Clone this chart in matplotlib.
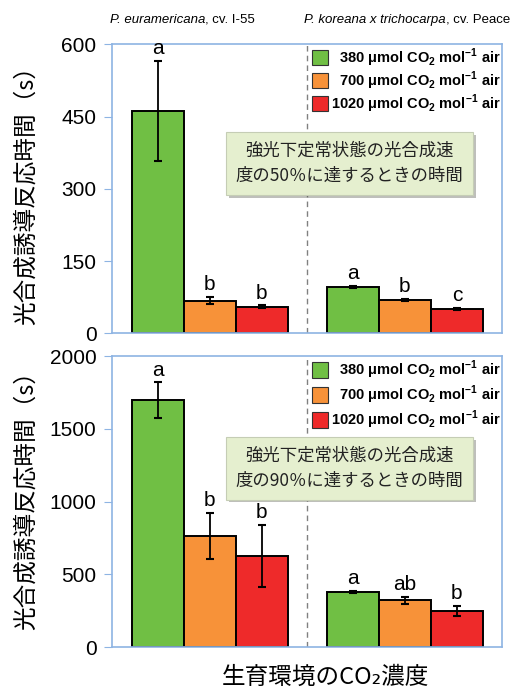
import numpy as np
import matplotlib
matplotlib.use('Agg')
import matplotlib.pyplot as plt
from matplotlib import font_manager
from matplotlib.patches import Rectangle
import matplotlib.patheffects as pe

# data
co2_levels = ['380', '700', '1020']
species_italic = ['P. euramericana', 'P. koreana x trichocarpa']
species_cv = [', cv. I-55', ', cv. Peace']

t50_euram = [462, 68, 55]
t50_euram_err = [104, 7, 3]
t50_korea = [97, 70, 51]
t50_korea_err = [2, 2, 2]
t50_letters = [['a', 'b', 'b'], ['a', 'b', 'c']]

t90_euram = [1698, 765, 628]
t90_euram_err = [122, 160, 213]
t90_korea = [380, 323, 249]
t90_korea_err = [8, 24, 33]
t90_letters = [['a', 'b', 'b'], ['a', 'ab', 'b']]

bar_colors = ['#70bf44', '#f79239', '#ee2a2a']
spine_col = '#8eb4e3'

# fonts
names = {f.name for f in font_manager.fontManager.ttflist}
narrow = 'Liberation Sans Narrow' if 'Liberation Sans Narrow' in names else 'Liberation Sans'
jp = ['Noto Sans CJK JP', 'DejaVu Sans']
plt.rcParams['font.family'] = [narrow, 'DejaVu Sans']
plt.rcParams['mathtext.fontset'] = 'custom'
plt.rcParams['mathtext.bf'] = 'Liberation Sans:bold'
plt.rcParams['mathtext.rm'] = 'Liberation Sans:bold'

fig = plt.figure(figsize=(5.25, 6.93), dpi=100)
ax1 = fig.add_axes([0.213, 0.519, 0.743, 0.417])
ax2 = fig.add_axes([0.213, 0.066, 0.743, 0.420])

group_x = [2.0, 5.75]
offsets = np.array([-1, 0, 1])
divider_x = 3.865


def draw_panel(ax, means, errs, letters, ymax, yticks, box_text, box_y, leg_top, leg_step):
    for g in range(2):
        xs = group_x[g] + offsets
        ax.bar(xs, means[g], width=1.0, color=bar_colors, edgecolor='black',
               linewidth=1.4, zorder=2)
        ax.errorbar(xs, means[g], yerr=errs[g], fmt='none', ecolor='black',
                    elinewidth=1.3, capsize=3, capthick=1.5, zorder=3)
        for x, m, e, l in zip(xs, means[g], errs[g], letters[g]):
            ax.annotate(l, (x, m + e), xytext=(0, 2), textcoords='offset points',
                        ha='center', va='bottom', fontsize=15,
                        family='Liberation Sans', zorder=4)
    ax.axvline(divider_x, color='#808080', lw=1, ls=(0, (4, 3)), zorder=1)
    ax.set_xlim(0.115, 7.615)
    ax.set_ylim(0, ymax)
    ax.set_xticks([])
    ax.set_yticks(yticks)
    ax.tick_params(axis='y', direction='out', length=6, color=spine_col,
                   labelsize=15, pad=5)
    for s in ax.spines.values():
        s.set_color(spine_col)
        s.set_linewidth(1.2)

    # legend, drawn by hand so the labels are right aligned
    for i, lev in enumerate(co2_levels):
        yc = leg_top - i * leg_step
        ax.add_patch(Rectangle((0.513, yc - 0.027), 0.04, 0.054, transform=ax.transAxes,
                               facecolor=bar_colors[i], edgecolor='#333333', lw=0.8,
                               zorder=5))
        ax.text(0.997, yc, lev + r' $\mathbf{\mu}$mol CO$_\mathbf{2}$ mol$^\mathbf{-1}$ air',
                transform=ax.transAxes, ha='right', va='center', fontsize=10.5,
                family='Liberation Sans', weight='bold', clip_on=True, zorder=5)

    ax.text(0.61, box_y, box_text, transform=ax.transAxes, ha='center', va='center',
            fontsize=12.5, family=jp, linespacing=1.55, color='#222222', zorder=6,
            bbox=dict(boxstyle='square,pad=0.55', facecolor='#e5efcf',
                      edgecolor='#c5cdb5', lw=0.8,
                      path_effects=[pe.withSimplePatchShadow(offset=(2, -2),
                                                             alpha=0.35)]))


draw_panel(ax1, [t50_euram, t50_korea], [t50_euram_err, t50_korea_err], t50_letters,
           600, [0, 150, 300, 450, 600],
           '強光下定常状態の光合成速\n度の50％に達するときの時間', 0.588, 0.955, 0.08)
draw_panel(ax2, [t90_euram, t90_korea], [t90_euram_err, t90_korea_err], t90_letters,
           2000, [0, 500, 1000, 1500, 2000],
           '強光下定常状態の光合成速\n度の90％に達するときの時間', 0.615, 0.952, 0.086)

# species names above the top panel
for xf, it, cv in zip([0.2095, 0.579], species_italic, species_cv):
    t = fig.text(xf, 0.967, it, style='italic', fontsize=9.5, ha='left', va='baseline')
    ax1.annotate(cv, xy=(1, 0), xycoords=t, ha='left', va='bottom', fontsize=9.5,
                 annotation_clip=False)

# axis labels
for yc in [0.726, 0.287]:
    fig.text(0.05, yc, '光合成誘導反応時間（s）', rotation=90, ha='center', va='center',
             fontsize=17, family=jp)
fig.text(0.62, 0.022, '生育環境のCO₂濃度', ha='center', va='center', fontsize=17,
         family=jp)

fig.savefig('out.png', dpi=100)
